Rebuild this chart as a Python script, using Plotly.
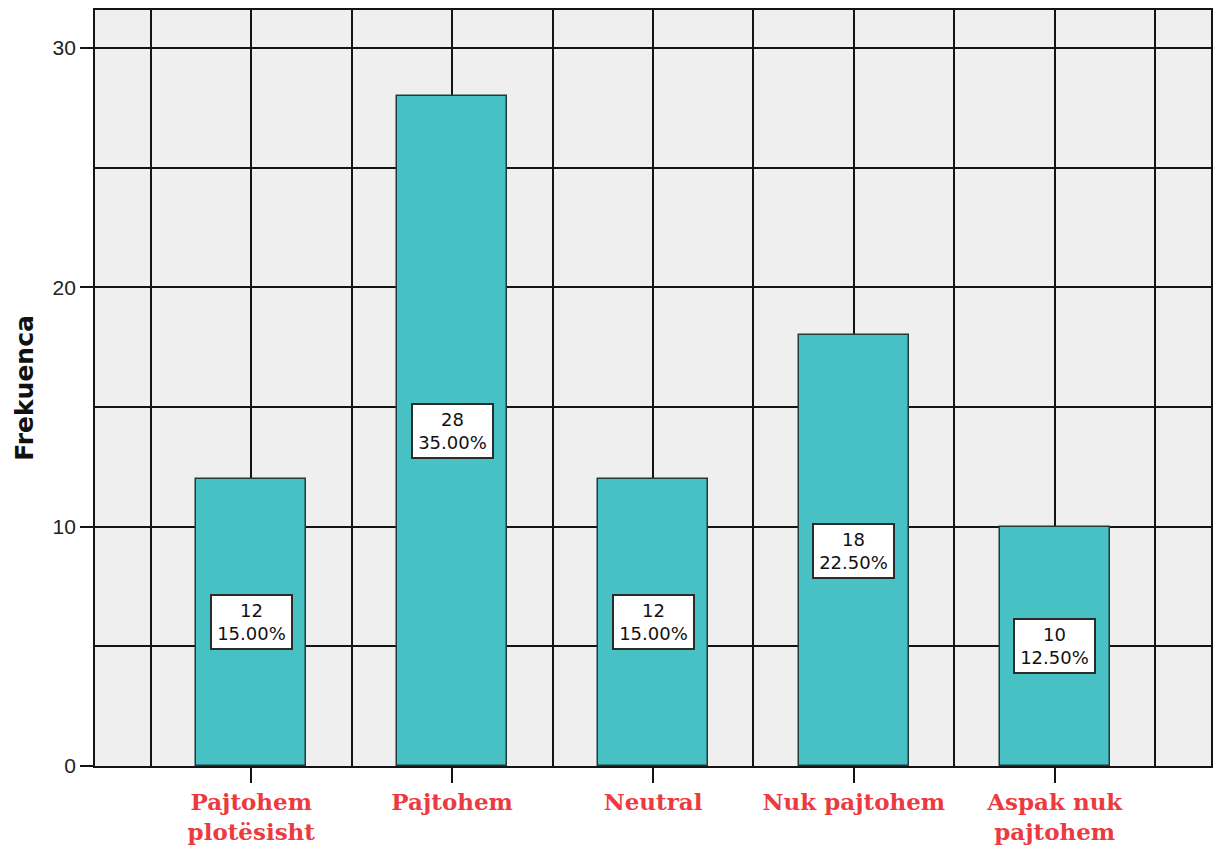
import plotly.graph_objects as go

# Survey responses: frequency per answer
categories = ["Pajtohem<br>plotësisht", "Pajtohem", "Neutral", "Nuk pajtohem", "Aspak nuk<br>pajtohem"]
counts = [12, 28, 12, 18, 10]
y_ticks = [0, 10, 20, 30]

total = sum(counts)
percents = [c / total * 100 for c in counts]
xpos = list(range(len(categories)))

BAR_COLOR = "#48c1c4"
GRID = "#141414"
LABEL_RED = "#ec3a40"

fig = go.Figure()
fig.add_trace(go.Bar(
    x=xpos, y=counts, width=0.546,
    marker=dict(color=BAR_COLOR, line=dict(color="#1f3b3c", width=1.5)),
    hoverinfo="skip",
))

# White value boxes (count + percentage) in the middle of each bar
for x, c, p in zip(xpos, counts, percents):
    fig.add_annotation(x=x, y=c / 2, text=f"{c}<br>{p:.2f}%", showarrow=False,
                       width=79, height=52, bgcolor="white",
                       bordercolor="#2b2b2b", borderwidth=2, borderpad=0,
                       font=dict(family="DejaVu Sans", size=18, color="#111"))

fig.update_layout(
    width=1216, height=848,
    margin=dict(l=95, r=3, t=10, b=81),
    paper_bgcolor="white", plot_bgcolor="#efefef",
    showlegend=False, bargap=0,
)
fig.update_xaxes(
    range=[-0.778, 4.778],
    tickmode="array", tickvals=xpos, ticktext=categories,
    tickfont=dict(family="DejaVu Serif", size=23, color=LABEL_RED, weight="bold"),
    ticks="outside", ticklen=15, tickwidth=2, tickcolor=GRID,
    showgrid=True, gridcolor=GRID, gridwidth=1.7,
    minor=dict(tickmode="array", tickvals=[i - 0.5 for i in range(len(categories) + 1)],
               showgrid=True, gridcolor=GRID, gridwidth=1.7, ticklen=0),
    showline=True, linecolor=GRID, linewidth=1.7, mirror=True,
    zeroline=False,
)
fig.update_yaxes(
    range=[0, 31.59],
    tickmode="array", tickvals=y_ticks,
    tickfont=dict(family="Liberation Sans", size=21, color="#222"),
    ticks="outside", ticklen=13, tickwidth=2, tickcolor=GRID,
    showgrid=True, gridcolor=GRID, gridwidth=1.7,
    minor=dict(tickmode="array", tickvals=[5, 15, 25], showgrid=True,
               gridcolor=GRID, gridwidth=1.7, ticklen=0),
    showline=True, linecolor=GRID, linewidth=1.7, mirror=True,
    zeroline=False,
    title=dict(text="Frekuenca", standoff=12,
               font=dict(family="DejaVu Sans", size=25, color="#111", weight="bold")),
)

fig.write_html("out.html")
